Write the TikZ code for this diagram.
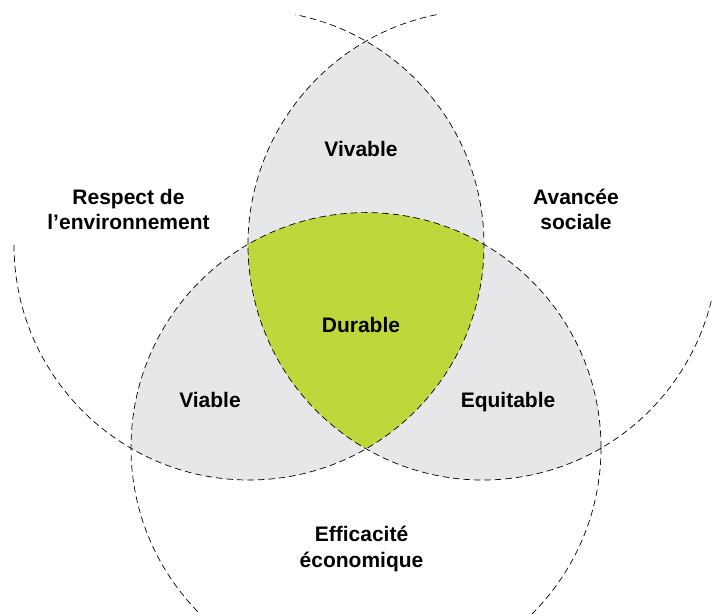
\documentclass[tikz,border=0pt]{standalone}
\usepackage{fontspec}
\setmainfont{Liberation Sans}
\usepackage{tikz}
\definecolor{lensgray}{RGB}{230,231,232}
\definecolor{durgreen}{RGB}{191,215,59}
\newcommand{\vennrad}{235}

\begin{document}
\begin{tikzpicture}[x=1pt,y=1pt,
  ring/.style={draw=black,line width=0.7pt,dash pattern=on 6.5pt off 4pt},
  tag/.style={font=\bfseries\fontsize{21}{25.5}\selectfont,align=center,inner sep=0pt}]

% Define region styles
\tikzstyle{lens} = [fill=lensgray]
\tikzstyle{core} = [fill=durgreen]

\useasboundingbox (0,0) rectangle (712,613);
\clip (0,0) rectangle (712,613);

\coordinate (env) at (249,368);
\coordinate (soc) at (483,368);
\coordinate (eco) at (366,165.4);

% pairwise overlaps
\begin{scope}
  \clip (env) circle[radius=\vennrad];
  \path[lens] (soc) circle[radius=\vennrad];
  \path[lens] (eco) circle[radius=\vennrad];
\end{scope}
\begin{scope}
  \clip (soc) circle[radius=\vennrad];
  \path[lens] (eco) circle[radius=\vennrad];
\end{scope}
% all three
\begin{scope}
  \clip (env) circle[radius=\vennrad];
  \clip (soc) circle[radius=\vennrad];
  \path[core] (eco) circle[radius=\vennrad];
\end{scope}

\draw[ring] (env) ++(180:\vennrad) arc[start angle=180, end angle=438.6, radius=\vennrad];
\draw[ring] (soc) ++(101.4:\vennrad) arc[start angle=101.4, end angle=360, radius=\vennrad];
\draw[ring] (eco) circle[radius=\vennrad];

\node[tag,anchor=base]	(vivable)	at (361,456)	{Vivable};
\node[tag,anchor=base]	(durable)	at (361,280)	{Durable};
\node[tag,anchor=base]	(viable)	at (210,205)	{Viable};
\node[tag,anchor=base]	(equitable)	at (508,205)	{Equitable};
\node[tag]		(envtext)	at (128.5,403.4)	{Respect de\\l’environnement};
\node[tag]		(soctext)	at (576,403.7)	{Avancée\\sociale};
\node[tag]		(ecotext)	at (361.5,64)	{Efficacité\\économique};

\end{tikzpicture}
\end{document}
